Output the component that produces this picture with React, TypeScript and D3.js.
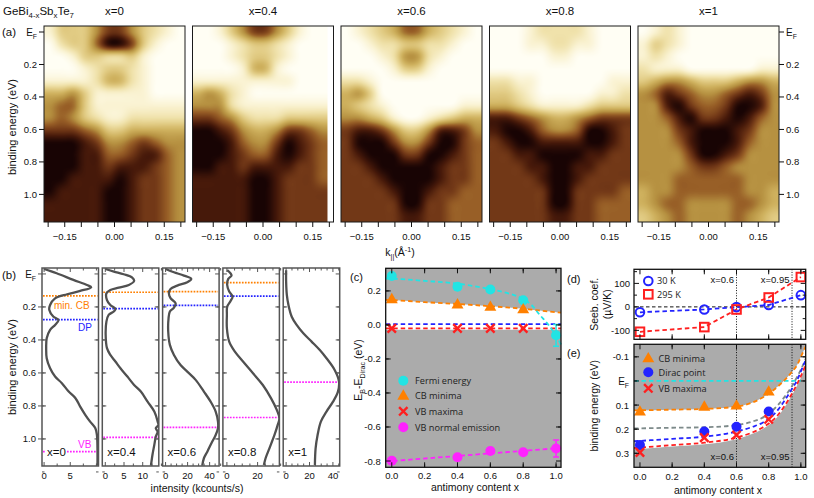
import React, { useEffect, useRef } from "react";
import * as d3 from "d3";

// ---------------- (a) ARPES maps ----------------
// darkness 0 (light) .. 9 (black); 16 rows from the top edge (-0.04 eV) down to 1.17 eV, 12 columns across k
const mapTitles = ["x=0", "x=0.4", "x=0.6", "x=0.8", "x=1"];
const mapX00 = [
  "133357753210", "023369973100", "001332231000", "000123321000",
  "111124421000", "445311111000", "566311111111", "565321122222",
  "777653344444", "999875567655", "999886678865", "999887888765",
  "998888987765", "988889987765", "888889987765", "888889987765",
];
const mapX04 = [
  "001357753100", "000123321000", "000123321000", "000014410000",
  "111111111000", "454210000000", "555211111111", "776532223333",
  "998754457765", "999865579876", "999876689876", "998878888776",
  "888889987776", "888889987777", "888889987777", "888889987777",
];
const mapX06 = [
  "012346643210", "001223322100", "000125521000", "000013310000",
  "221000000000", "453000000000", "432100000011", "554310012344",
  "788753358875", "799975579976", "789997799876", "778999998776",
  "777899998776", "777789987766", "777779977666", "777778877666",
];
const mapX08 = [
  "000122221000", "000112211000", "000001100000", "000000000000",
  "221100000011", "332100000112", "443211112333", "887654456777",
  "899865569987", "789988889987", "778899998877", "777889988777",
  "777789987777", "777779977776", "777779977666", "777778877666",
];
const mapX10 = [
  "012100000000", "132100000000", "121000000000", "211100000011",
  "345543334554", "568765567875", "558976679985", "556897789865",
  "555789998755", "555689998655", "555579987555", "555567765555",
  "555666666555", "455666666554", "456655556654", "345655556543",
];
const arpesMaps = [mapX00, mapX04, mapX06, mapX08, mapX10];
const mapKmax = [0.2125, 0.195, 0.2125, 0.2125, 0.2125];
const kTicks = [-0.2, -0.15, -0.1, -0.05, 0, 0.05, 0.1, 0.15, 0.2];
const kLabels = [-0.15, 0, 0.15];
const ebTicks = [0, 0.2, 0.4, 0.6, 0.8, 1.0];

// ---------------- (b) EDCs: [binding energy, intensity] ----------------
const edcX00 = [[-0.03, 0], [-0.004, 2.4], [0.036, 5.6], [0.067, 8.2], [0.081, 9.0], [0.103, 6.9], [0.123, 4.4], [0.148, 2.1], [0.188, 1.15], [0.218, 1.0], [0.259, 1.8], [0.279, 2.75], [0.309, 2.1], [0.339, 1.15], [0.39, 0.5], [0.45, 0.4], [0.511, 0.5], [0.572, 1.15], [0.622, 2.1], [0.662, 3.4], [0.713, 4.7], [0.753, 6.0], [0.804, 6.9], [0.855, 7.9], [0.895, 8.8], [0.935, 9.8], [0.976, 10.1], [1.056, 10.2], [1.162, 10.2]];
const edcX04 = [[-0.03, 0], [-0.014, 2.3], [0.002, 4.9], [0.022, 7.2], [0.042, 7.7], [0.067, 6.3], [0.083, 3.6], [0.097, 1.35], [0.117, 0.3], [0.158, 0.45], [0.188, 1.35], [0.212, 2.7], [0.228, 2.25], [0.248, 0.9], [0.289, 0.3], [0.37, 0.1], [0.45, 0.45], [0.491, 1.35], [0.531, 2.7], [0.572, 4.05], [0.622, 5.9], [0.673, 7.7], [0.713, 9.5], [0.774, 11.3], [0.834, 13.1], [0.895, 14.0], [0.915, 14.2], [0.935, 13.5], [0.956, 14.0], [0.986, 13.5], [1.036, 13.1], [1.097, 12.6], [1.162, 12.2]];
const edcX06 = [[-0.03, 0], [-0.01, 7.6], [0.01, 16.7], [0.03, 23.3], [0.05, 19.7], [0.071, 10.6], [0.091, 4.5], [0.117, 3.0], [0.147, 4.5], [0.178, 9.1], [0.204, 7.6], [0.228, 3.9], [0.269, 2.7], [0.349, 2.4], [0.43, 3.9], [0.491, 7.6], [0.552, 13.6], [0.592, 19.7], [0.642, 27.3], [0.713, 34.8], [0.774, 40.9], [0.834, 45.5], [0.895, 47.6], [0.935, 47.6], [0.976, 45.5], [1.016, 42.4], [1.077, 37.9], [1.117, 34.8], [1.162, 33.3]];
const edcX08 = [[-0.023, 0.2], [-0.003, 2.4], [0.01, 3.0], [0.03, 0.9], [0.067, 0.2], [0.107, 1.5], [0.137, 3.7], [0.164, 2.4], [0.198, 0.2], [0.248, 0], [0.329, 0], [0.41, 1.5], [0.471, 5.2], [0.531, 10.5], [0.602, 17], [0.673, 23.4], [0.754, 28.8], [0.824, 32.5], [0.875, 34.2], [0.915, 33.1], [0.976, 31], [1.057, 27.7], [1.117, 25.2], [1.158, 24.1]];
const edcX10 = [[-0.023, 0], [0.046, 0], [0.127, 0.6], [0.188, 2], [0.259, 4.8], [0.309, 9], [0.36, 14.7], [0.41, 21.8], [0.461, 28.8], [0.511, 34.5], [0.582, 41.5], [0.652, 45.2], [0.713, 44.3], [0.774, 40.1], [0.834, 34.5], [0.895, 29.7], [0.976, 26.9], [1.057, 25.2], [1.158, 24.6]];
const edcCurves = [edcX00, edcX04, edcX06, edcX08, edcX10];
const edcMinCB = [0.133, 0.111, 0.107, 0.053, null];
const edcDP = [0.277, 0.21, 0.19, 0.135, null];
const edcVB = [1.077, 0.99, 0.93, 0.87, 0.656];
const edcRanges = [[-0.4, 10.4], [-0.8, 14.3], [-2.7, 48.6], [-2.6, 34.2], [-2.5, 45.8]];
const edcTickVals = [[0, 5], [0, 5, 10], [0, 20, 40], [0, 20], [0, 20, 40]];
const edcMinorStep = [2.5, 2.5, 5, 5, 5];

// ---------------- (c) energies relative to the Dirac point ----------------
const xContent = [0, 0.4, 0.6, 0.8, 1.0];
const cFermi = [0.288, 0.224, 0.208, 0.145, -0.061];
const cFermiErr = [0, 0, 0, 0, 0.064];
const cCbMin = [0.151, 0.12, 0.106, 0.092];
const cVbMax = [-0.02, -0.02, -0.02, -0.02];
const cVbNormal = [-0.798, -0.778, -0.741, -0.749, -0.726];
const cVbNormalErr = [0, 0, 0, 0, 0.05];
const cFitX = [-0.037, 0, 0.2, 0.4, 0.6, 0.7, 0.8, 0.85, 0.9, 0.95, 1.0, 1.03];
const cFermiFit = [0.273, 0.272, 0.259, 0.243, 0.21, 0.188, 0.152, 0.118, 0.06, 0.005, -0.065, -0.115];
const cCbFit = [0.147, 0.146, 0.134, 0.123, 0.11, 0.103, 0.095, 0.09, 0.085, 0.08, 0.075, 0.072];
const cDiracLevel = 0.005;
const cVbLevel = -0.02;
const cVbNormalFit = [[-0.037, -0.803], [1.03, -0.723]];
const cLegend = ["Fermi energy", "CB minima", "VB maxima", "VB normal emission"];

// ---------------- (d) Seebeck coefficient (µV/K) ----------------
const seebeck30 = [-23, -11, -1, 8, 50];
const seebeck295 = [-106, -86, -11, 40, 127];
const markLines = [0.6, 0.945];
const markLabels = ["x=0.6", "x=0.95"];

// ---------------- (e) binding energies (eV) ----------------
const eX = [0, 0.4, 0.6, 0.8];
const eCb = [0.127, 0.107, 0.102, 0.044];
const eDirac = [0.266, 0.21, 0.19, 0.127];
const eVb = [0.296, 0.235, 0.224, 0.159];
const eFitX = [-0.037, 0.2, 0.4, 0.6, 0.7, 0.76, 0.82, 0.86, 0.9, 0.94, 0.98, 1.0, 1.035];
const eCbFit = [0.122, 0.119, 0.116, 0.106, 0.089, 0.07, 0.043, 0.021, -0.004, -0.034, -0.07, -0.1, -0.15];
const eMidFit = [0.197, 0.194, 0.192, 0.183, 0.168, 0.153, 0.125, 0.098, 0.065, 0.026, -0.021, -0.047, -0.1];
const eDiracFit = [0.25, 0.24, 0.231, 0.21, 0.19, 0.174, 0.146, 0.118, 0.08, 0.038, -0.008, -0.04, -0.095];
const eVbFit = [0.278, 0.266, 0.256, 0.235, 0.213, 0.194, 0.166, 0.139, 0.102, 0.058, 0.008, -0.02, -0.075];
const eLegend = ["CB minima", "Dirac point", "VB maxima"];

const FONT = "'Liberation Sans', Arial, Helvetica, sans-serif";
const LFONT = "'Open Sans', 'Noto Sans', sans-serif";
const CYAN = "#22e4e4";
const ORANGE = "#ff8000";
const RED = "#ff1f1f";
const BLUE = "#2323ff";
const MAGENTA = "#ff22ff";
const GRAYBG = "#ababab";

function rich(p, x, y, parts, size, anchor = "start") {
  const t = p.append("text").attr("x", x).attr("y", y).attr("font-size", size).attr("text-anchor", anchor);
  let cur = 0;
  parts.forEach(([s, sh]) => {
    const target = sh > 0 ? size * 0.3 : sh < 0 ? -size * 0.4 : 0;
    t.append("tspan").attr("dy", target - cur).attr("font-size", sh ? size * 0.68 : size).text(s);
    cur = target;
  });
  return t;
}

function hTicks(g, sc, vals, y, len, color = "#111", w = 1) {
  g.selectAll(null).data(vals).enter().append("line")
    .attr("x1", (d) => sc(d)).attr("x2", (d) => sc(d))
    .attr("y1", y).attr("y2", y + len)
    .attr("stroke", color).attr("stroke-width", w);
}

function vTicks(g, sc, vals, x, len, color = "#111", w = 1) {
  g.selectAll(null).data(vals).enter().append("line")
    .attr("y1", (d) => sc(d)).attr("y2", (d) => sc(d))
    .attr("x1", x).attr("x2", x + len)
    .attr("stroke", color).attr("stroke-width", w);
}

function stepRange(a, b, s) {
  return d3.range(Math.round(a / s), Math.round(b / s) + 1).map((k) => +(k * s).toFixed(4));
}

function mark(g, kind, x, y, color) {
  if (kind === "dot") g.append("circle").attr("cx", x).attr("cy", y).attr("r", 5).attr("fill", color);
  if (kind === "ring") g.append("circle").attr("cx", x).attr("cy", y).attr("r", 4.3).attr("fill", "none").attr("stroke", color).attr("stroke-width", 2);
  if (kind === "square") g.append("rect").attr("x", x - 4.3).attr("y", y - 4.3).attr("width", 8.6).attr("height", 8.6).attr("fill", "none").attr("stroke", color).attr("stroke-width", 2);
  if (kind === "tri") g.append("path").attr("transform", `translate(${x},${y + 0.5})`).attr("d", d3.symbol(d3.symbolTriangle, 62)()).attr("fill", color);
  if (kind === "cross") g.append("path").attr("transform", `translate(${x},${y})`).attr("d", "M-4.2,-4.2L4.2,4.2M-4.2,4.2L4.2,-4.2").attr("stroke", color).attr("stroke-width", 2.4).attr("fill", "none");
}

// smooth image from a coarse grid: the darkness values are upsampled, then coloured through the d3 scale
function gridImage(grid, cmap, w, h) {
  const nr = grid.length, nc = grid[0].length;
  const small = document.createElement("canvas");
  small.width = nc; small.height = nr;
  const sctx = small.getContext("2d");
  grid.forEach((row, r) => row.split("").forEach((v, c) => {
    const g = Math.round(+v * 28);
    sctx.fillStyle = `rgb(${g},${g},${g})`;
    sctx.fillRect(c, r, 1, 1);
  }));
  const big = document.createElement("canvas");
  big.width = Math.round(w * 2); big.height = Math.round(h * 2);
  const bctx = big.getContext("2d");
  bctx.imageSmoothingEnabled = true;
  bctx.imageSmoothingQuality = "high";
  bctx.drawImage(small, 0, 0, big.width, big.height);
  const img = bctx.getImageData(0, 0, big.width, big.height);
  for (let p = 0; p < img.data.length; p += 4) {
    const col = d3.rgb(cmap(img.data[p] / 28));
    img.data[p] = col.r; img.data[p + 1] = col.g; img.data[p + 2] = col.b; img.data[p + 3] = 255;
  }
  bctx.putImageData(img, 0, 0);
  return big.toDataURL();
}

function drawArpes(svg, defs) {
  const aTop = 26, aBot = 222, aW = 141;
  const yA = d3.scaleLinear().domain([-0.037, 1.17]).range([aTop, aBot]);
  const cmap = d3.scaleLinear().domain(d3.range(10)).clamp(true)
    .range(["#fffef4", "#faf3d3", "#f0e2ab", "#e1cb83", "#ceb05d", "#b69141", "#985f27", "#723817", "#46190a", "#180404"]);
  defs.append("filter").attr("id", "soft").append("feGaussianBlur").attr("stdDeviation", 1.5);
  const fmt = d3.format(".2f");
  arpesMaps.forEach((grid, i) => {
    const left = 44 + i * 148.5;
    const right = left + aW;
    const kx = d3.scaleLinear().domain([-0.2125, 0.2125]).range([left, right]);
    const iw = kx(mapKmax[i]) - left;
    const ih = yA(1.17) - yA(-0.037);
    defs.append("clipPath").attr("id", "ca" + i).append("rect")
      .attr("x", left).attr("y", aTop).attr("width", iw).attr("height", ih);
    svg.append("g").attr("clip-path", `url(#ca${i})`).append("image")
      .attr("href", gridImage(grid, cmap, iw, ih))
      .attr("x", kx(-0.2125)).attr("y", yA(-0.037)).attr("width", iw).attr("height", ih)
      .attr("preserveAspectRatio", "none");
    svg.append("rect").attr("x", left).attr("y", aTop).attr("width", aW).attr("height", aBot - aTop)
      .attr("fill", "none").attr("stroke", "#1a1a1a").attr("stroke-width", 1);
    hTicks(svg, kx, kTicks, aBot, 5);
    svg.append("g").selectAll("text").data(kLabels).join("text")
      .attr("x", (d) => kx(d)).attr("y", aBot + 18).attr("text-anchor", "middle").attr("font-size", 9.5)
      .text((d) => fmt(d));
    svg.append("text").attr("x", (left + right) / 2).attr("y", 15).attr("text-anchor", "middle").attr("font-size", 11.5).text(mapTitles[i]);
    if (i === 0) {
      vTicks(svg, yA, ebTicks, left, -5);
      ebTicks.forEach((v) => {
        if (v === 0) rich(svg, left - 7, yA(v) + 3.6, [["E", 0], ["F", 1]], 10, "end");
        else svg.append("text").attr("x", left - 7).attr("y", yA(v) + 3.5).attr("text-anchor", "end").attr("font-size", 9.5).text(d3.format(".1f")(v));
      });
    }
    if (i === 4) {
      vTicks(svg, yA, ebTicks, right, 5);
      ebTicks.forEach((v) => {
        if (v === 0) rich(svg, right + 7, yA(v) + 3.6, [["E", 0], ["F", 1]], 10);
        else svg.append("text").attr("x", right + 7).attr("y", yA(v) + 3.5).attr("font-size", 9.5).text(d3.format(".1f")(v));
      });
    }
  });
  rich(svg, 3, 15, [["GeBi", 0], ["4-x", 1], ["Sb", 0], ["x", 1], ["Te", 0], ["7", 1]], 11.5);
  svg.append("text").attr("x", 2).attr("y", 36).attr("font-size", 11.5).text("(a)");
  svg.append("text").attr("transform", `translate(16,${(aTop + aBot) / 2 + 3}) rotate(-90)`).attr("text-anchor", "middle").attr("font-size", 11).text("binding energy (eV)");
  rich(svg, 400, 256, [["k", 0], ["||", 1], ["(Å", 0], ["-1", -1], [")", 0]], 10.5, "middle");
}

function drawEdcs(svg, defs) {
  const bTop = 268, bBot = 466, bW = 56.5;
  const yB = d3.scaleLinear().domain([-0.036, 1.164]).range([bTop, bBot]);
  const line = d3.line().curve(d3.curveCatmullRom.alpha(0.5));
  const yMajor = stepRange(0, 1.0, 0.2);
  const yMinor = stepRange(0.1, 1.1, 0.2);
  edcCurves.forEach((pts, i) => {
    const left = 42 + i * 60.3, right = left + bW;
    const xs = d3.scaleLinear().domain(edcRanges[i]).range([left, right]);
    const g = svg.append("g");
    const levels = [[edcMinCB[i], ORANGE], [edcDP[i], BLUE], [edcVB[i], MAGENTA]];
    levels.filter((l) => l[0] != null).forEach(([e, col]) => {
      g.append("line").attr("x1", left + 1).attr("x2", right - 1).attr("y1", yB(e)).attr("y2", yB(e))
        .attr("stroke", col).attr("stroke-width", 1.7).attr("stroke-dasharray", "1.7,1.3");
    });
    const lab = g.append("text").attr("x", left + 5).attr("y", 456).attr("font-size", 11.5).text(mapTitles[i]);
    const bb = lab.node().getBBox();
    g.insert("rect", "text").attr("x", bb.x - 1).attr("y", bb.y).attr("width", bb.width + 2).attr("height", bb.height).attr("fill", "#fff");
    defs.append("clipPath").attr("id", "cb" + i).append("rect").attr("x", left).attr("y", bTop).attr("width", bW).attr("height", bBot - bTop);
    g.append("path").attr("clip-path", `url(#cb${i})`)
      .attr("d", line(pts.map(([e, v]) => [xs(v), yB(e)])))
      .attr("fill", "none").attr("stroke", "#505050").attr("stroke-width", 2.3).attr("stroke-linejoin", "round");
    g.append("rect").attr("x", left).attr("y", bTop).attr("width", bW).attr("height", bBot - bTop)
      .attr("fill", "none").attr("stroke", "#555").attr("stroke-width", 1.5);
    vTicks(g, yB, yMajor, left, 4, "#555");
    vTicks(g, yB, yMinor, left, 2.5, "#555");
    vTicks(g, yB, yMajor, right, -4, "#555");
    vTicks(g, yB, yMinor, right, -2.5, "#555");
    const minor = stepRange(0, edcRanges[i][1], edcMinorStep[i]).filter((v) => !edcTickVals[i].includes(v));
    hTicks(g, xs, edcTickVals[i], bBot, -4, "#555");
    hTicks(g, xs, minor, bBot, -2.5, "#555");
    hTicks(g, xs, edcTickVals[i], bTop, 4, "#555");
    hTicks(g, xs, minor, bTop, 2.5, "#555");
    g.selectAll(null).data(edcTickVals[i]).enter().append("text")
      .attr("x", (d) => xs(d)).attr("y", 479).attr("text-anchor", "middle").attr("font-size", 9.5).text((d) => d);
    if (i === 0) {
      vTicks(g, yB, yMajor, left, -4, "#555");
      yMajor.forEach((v) => {
        if (v === 0) rich(g, left - 6, yB(v) + 3.6, [["E", 0], ["F", 1]], 10, "end");
        else g.append("text").attr("x", left - 6).attr("y", yB(v) + 3.5).attr("text-anchor", "end").attr("font-size", 9.5).text(d3.format(".1f")(v));
      });
    }
  });
  svg.append("text").attr("x", 54).attr("y", 309).attr("font-size", 10).attr("fill", ORANGE).text("min. CB");
  svg.append("text").attr("x", 78).attr("y", 331).attr("font-size", 10).attr("fill", BLUE).text("DP");
  svg.append("text").attr("x", 78).attr("y", 448).attr("font-size", 10).attr("fill", MAGENTA).text("VB");
  svg.append("text").attr("x", 2).attr("y", 279).attr("font-size", 11.5).text("(b)");
  svg.append("text").attr("transform", `translate(16,${(bTop + bBot) / 2}) rotate(-90)`).attr("text-anchor", "middle").attr("font-size", 11).text("binding energy (eV)");
  svg.append("text").attr("x", 197).attr("y", 492).attr("text-anchor", "middle").attr("font-size", 10.5).text("intensity (kcounts/s)");
}

function frameTicks(g, xs, ys, L, R, T, B, xMajor, xMinor, yMajor, yMinor) {
  g.append("rect").attr("x", L).attr("y", T).attr("width", R - L).attr("height", B - T)
    .attr("fill", "none").attr("stroke", "#111").attr("stroke-width", 1.3);
  hTicks(g, xs, xMajor, B, -5); hTicks(g, xs, xMinor, B, -3);
  hTicks(g, xs, xMajor, T, 5); hTicks(g, xs, xMinor, T, 3);
  vTicks(g, ys, yMajor, L, 5); vTicks(g, ys, yMinor, L, 3);
  vTicks(g, ys, yMajor, R, -5); vTicks(g, ys, yMinor, R, -3);
}

function dashed(g, pts, color, dash = "4.5,3", w = 1.8) {
  g.append("path").attr("d", d3.line().curve(d3.curveMonotoneX)(pts))
    .attr("fill", "none").attr("stroke", color).attr("stroke-width", w).attr("stroke-dasharray", dash);
}

function errBar(g, x, y0, y1, color) {
  g.append("path").attr("d", `M${x},${y0}V${y1}M${x - 3},${y0}H${x + 3}M${x - 3},${y1}H${x + 3}`)
    .attr("stroke", color).attr("stroke-width", 1.5).attr("fill", "none");
}

function drawPanelC(svg) {
  const L = 385.7, R = 561, T = 268.3, B = 467.3;
  const xc = d3.scaleLinear().domain([-0.037, 1.03]).range([L, R]);
  const yc = d3.scaleLinear().domain([-0.837, 0.333]).range([B, T]);
  const g = svg.append("g");
  g.append("rect").attr("x", L).attr("y", T).attr("width", R - L).attr("height", B - T).attr("fill", GRAYBG);
  g.append("path").attr("d", d3.area().curve(d3.curveMonotoneX)
    .x((d) => xc(d[0])).y1((d) => yc(d[1])).y0(yc(cVbLevel) + 1.5)(cFitX.map((x, j) => [x, cCbFit[j]])))
    .attr("fill", "#fff");
  dashed(g, [[xc(-0.037), yc(cDiracLevel)], [xc(1.03), yc(cDiracLevel)]], BLUE);
  dashed(g, [[xc(-0.037), yc(cVbLevel)], [xc(1.03), yc(cVbLevel)]], RED);
  dashed(g, cFitX.map((x, j) => [xc(x), yc(cCbFit[j])]), ORANGE);
  dashed(g, cFitX.map((x, j) => [xc(x), yc(cFermiFit[j])]), CYAN);
  dashed(g, cVbNormalFit.map(([x, v]) => [xc(x), yc(v)]), MAGENTA);
  xContent.forEach((x, j) => {
    if (cFermiErr[j]) errBar(g, xc(x), yc(cFermi[j] - cFermiErr[j]), yc(cFermi[j] + cFermiErr[j]), CYAN);
    if (cVbNormalErr[j]) errBar(g, xc(x), yc(cVbNormal[j] - cVbNormalErr[j]), yc(cVbNormal[j] + cVbNormalErr[j]), MAGENTA);
    mark(g, "dot", xc(x), yc(cFermi[j]), CYAN);
    mark(g, "dot", xc(x), yc(cVbNormal[j]), MAGENTA);
    if (j < cCbMin.length) {
      mark(g, "tri", xc(x), yc(cCbMin[j]), ORANGE);
      mark(g, "cross", xc(x), yc(cVbMax[j]), RED);
    }
  });
  const legKinds = [["dot", CYAN], ["tri", ORANGE], ["cross", RED], ["dot", MAGENTA]];
  const legY = [380.7, 395.7, 411.3, 427.3];
  cLegend.forEach((s, j) => {
    mark(g, legKinds[j][0], 403.3, legY[j], legKinds[j][1]);
    g.append("text").attr("x", 415).attr("y", legY[j] + 3.3).attr("font-size", 9.2).attr("font-family", LFONT).attr("fill", "#222").text(s);
  });
  frameTicks(g, xc, yc, L, R, T, B, stepRange(0, 1, 0.2), stepRange(0.1, 0.9, 0.2),
    stepRange(-0.8, 0.2, 0.2), stepRange(-0.7, 0.3, 0.2));
  g.selectAll(null).data(stepRange(-0.8, 0.2, 0.2)).enter().append("text")
    .attr("x", L - 5).attr("y", (d) => yc(d) + 3.5).attr("text-anchor", "end").attr("font-size", 9.5)
    .text((d) => d3.format(".1f")(d).replace("−", "-"));
  g.selectAll(null).data(stepRange(0, 1, 0.2)).enter().append("text")
    .attr("x", (d) => xc(d)).attr("y", 479).attr("text-anchor", "middle").attr("font-size", 9.5)
    .text((d) => d3.format(".1f")(d));
  svg.append("text").attr("x", 350).attr("y", 281).attr("font-size", 11).text("(c)");
  rich(svg, 0, 0, [["E", 0], ["B", 1], ["-E", 0], ["Dirac", 1], [" (eV)", 0]], 10.5, "middle")
    .attr("transform", `translate(362,370) rotate(-90)`);
  svg.append("text").attr("x", 475).attr("y", 491).attr("text-anchor", "middle").attr("font-size", 10.5).text("antimony content x");
}

function drawPanelD(svg) {
  const L = 634, R = 805.7, T = 269.3, B = 339.3;
  const xd = d3.scaleLinear().domain([-0.037, 1.03]).range([L, R]);
  const yd = d3.scaleLinear().domain([-138, 160]).range([B, T]);
  const g = svg.append("g");
  g.append("rect").attr("x", L).attr("y", T).attr("width", R - L).attr("height", B - T).attr("fill", "#fff");
  g.append("line").attr("x1", L).attr("x2", R).attr("y1", yd(0)).attr("y2", yd(0)).attr("stroke", "#111").attr("stroke-dasharray", "3.5,2.5");
  markLines.forEach((m) => g.append("line").attr("x1", xd(m)).attr("x2", xd(m)).attr("y1", T).attr("y2", B).attr("stroke", "#111").attr("stroke-dasharray", "1,1.6"));
  const lin = d3.line().x((d, j) => xd(xContent[j])).y((d) => yd(d));
  g.append("path").attr("d", lin(seebeck30)).attr("fill", "none").attr("stroke", BLUE).attr("stroke-width", 1.8).attr("stroke-dasharray", "4.5,3");
  g.append("path").attr("d", lin(seebeck295)).attr("fill", "none").attr("stroke", RED).attr("stroke-width", 1.8).attr("stroke-dasharray", "4.5,3");
  xContent.forEach((x, j) => {
    mark(g, "ring", xd(x), yd(seebeck30[j]), BLUE);
    mark(g, "square", xd(x), yd(seebeck295[j]), RED);
  });
  mark(g, "ring", 648.3, 281, BLUE);
  mark(g, "square", 648.3, 294.3, RED);
  g.append("text").attr("x", 657).attr("y", 284.3).attr("font-size", 9.2).attr("font-family", LFONT).attr("fill", "#222").text("30 K");
  g.append("text").attr("x", 657).attr("y", 297.6).attr("font-size", 9.2).attr("font-family", LFONT).attr("fill", "#222").text("295 K");
  markLabels.forEach((s, j) => g.append("text").attr("x", xd(markLines[j]) - 2.5).attr("y", 282.5).attr("text-anchor", "end").attr("font-size", 9.5).text(s));
  frameTicks(g, xd, yd, L, R, T, B, stepRange(0, 1, 0.2), stepRange(0.1, 0.9, 0.2), [-100, 0, 100], [-50, 50, 150]);
  g.selectAll(null).data([-100, 0, 100]).enter().append("text")
    .attr("x", L - 4).attr("y", (d) => yd(d) + 3.5).attr("text-anchor", "end").attr("font-size", 9.5).text((d) => d);
  svg.append("text").attr("x", 567).attr("y", 283).attr("font-size", 11).text("(d)");
  svg.append("text").attr("transform", `translate(598,${(T + B) / 2}) rotate(-90)`).attr("text-anchor", "middle").attr("font-size", 10.5).text("Seeb. coef.");
  svg.append("text").attr("transform", `translate(611,${(T + B) / 2}) rotate(-90)`).attr("text-anchor", "middle").attr("font-size", 10.5).text("(µV/K)");
}

function drawPanelE(svg) {
  const L = 634, R = 805.7, T = 344.3, B = 467.3;
  const xe = d3.scaleLinear().domain([-0.037, 1.03]).range([L, R]);
  const ye = d3.scaleLinear().domain([-0.152, 0.358]).range([T, B]);
  const g = svg.append("g");
  svg.select("defs").append("clipPath").attr("id", "ce").append("rect").attr("x", L).attr("y", T).attr("width", R - L).attr("height", B - T);
  const inner = g.append("g").attr("clip-path", "url(#ce)");
  inner.append("rect").attr("x", L).attr("y", T).attr("width", R - L).attr("height", B - T).attr("fill", GRAYBG);
  inner.append("path").attr("d", d3.area().curve(d3.curveMonotoneX)
    .x((d) => xe(d[0])).y0((d) => ye(d[1])).y1((d) => ye(d[2]) + 1.5)(eFitX.map((x, j) => [x, eCbFit[j], eVbFit[j]])))
    .attr("fill", "#fff");
  markLines.forEach((m) => inner.append("line").attr("x1", xe(m)).attr("x2", xe(m)).attr("y1", T).attr("y2", B).attr("stroke", "#111").attr("stroke-dasharray", "1,1.6"));
  dashed(inner, [[xe(-0.037), ye(0)], [xe(1.0), ye(0)]], CYAN);
  dashed(inner, eFitX.map((x, j) => [xe(x), ye(eMidFit[j])]), "#7d8a8a");
  dashed(inner, eFitX.map((x, j) => [xe(x), ye(eVbFit[j])]), RED);
  dashed(inner, eFitX.map((x, j) => [xe(x), ye(eDiracFit[j])]), BLUE);
  dashed(inner, eFitX.map((x, j) => [xe(x), ye(eCbFit[j])]), ORANGE);
  eX.forEach((x, j) => {
    mark(g, "tri", xe(x), ye(eCb[j]), ORANGE);
    mark(g, "dot", xe(x), ye(eDirac[j]), BLUE);
    mark(g, "cross", xe(x), ye(eVb[j]), RED);
  });
  const legKinds = [["tri", ORANGE], ["dot", BLUE], ["cross", RED]];
  const legY = [358.3, 372.3, 388.3];
  eLegend.forEach((s, j) => {
    mark(g, legKinds[j][0], 648.3, legY[j], legKinds[j][1]);
    g.append("text").attr("x", 658.5).attr("y", legY[j] + 3.3).attr("font-size", 9.2).attr("font-family", LFONT).attr("fill", "#222").text(s);
  });
  markLabels.forEach((s, j) => g.append("text").attr("x", xe(markLines[j]) - 2.5).attr("y", 459.5).attr("text-anchor", "end").attr("font-size", 9.5).text(s));
  frameTicks(g, xe, ye, L, R, T, B, stepRange(0, 1, 0.2), stepRange(0.1, 0.9, 0.2),
    stepRange(-0.1, 0.3, 0.1), stepRange(-0.15, 0.35, 0.1));
  stepRange(-0.1, 0.3, 0.1).forEach((v) => {
    if (v === 0) rich(g, L - 5, ye(v) + 3.6, [["E", 0], ["F", 1]], 10, "end");
    else g.append("text").attr("x", L - 5).attr("y", ye(v) + 3.5).attr("text-anchor", "end").attr("font-size", 9.5).text(d3.format(".1f")(v).replace("−", "-"));
  });
  g.selectAll(null).data(stepRange(0, 1, 0.2)).enter().append("text")
    .attr("x", (d) => xe(d)).attr("y", 479.5).attr("text-anchor", "middle").attr("font-size", 9.5).text((d) => d3.format(".1f")(d));
  svg.append("text").attr("x", 567).attr("y", 357).attr("font-size", 11).text("(e)");
  svg.append("text").attr("transform", `translate(598,${(T + B) / 2}) rotate(-90)`).attr("text-anchor", "middle").attr("font-size", 10.5).text("binding energy (eV)");
  svg.append("text").attr("x", 718).attr("y", 494).attr("text-anchor", "middle").attr("font-size", 10.5).text("antimony content x");
}

export default function App() {
  const ref = useRef(null);
  useEffect(() => {
    const svg = d3.select(ref.current);
    svg.selectAll("*").remove();
    svg.attr("font-family", FONT).attr("fill", "#111");
    const df = svg.append("defs");
    drawArpes(svg, df);
    drawEdcs(svg, df);
    drawPanelC(svg);
    drawPanelD(svg);
    drawPanelE(svg);
  }, []);
  return (
    <svg ref={ref} width={814} height={498}
      style={{ position: "absolute", left: 0, top: 0, background: "#fff" }} />
  );
}
